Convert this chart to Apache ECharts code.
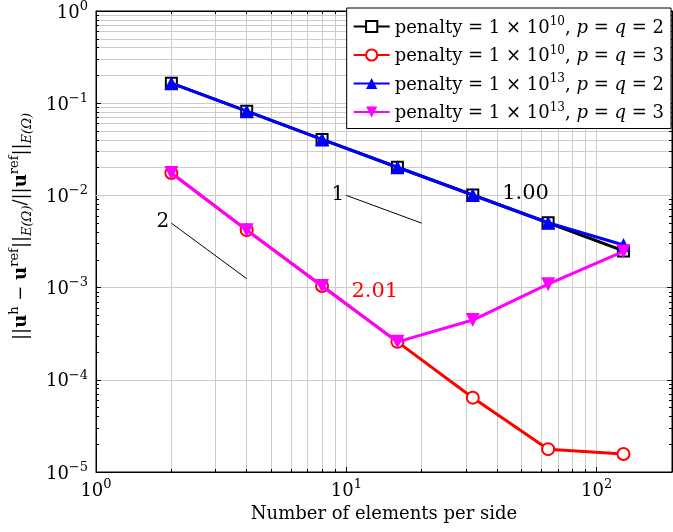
<!DOCTYPE html>
<html><head><meta charset="utf-8">
<script src="https://cdn.jsdelivr.net/npm/echarts@6/dist/echarts.min.js"></script>
<style>html,body{margin:0;padding:0;background:#fff}#c{width:673px;height:532px}</style>
</head><body><div id="c"></div>
<script>
// ---- data ----
const nElems = [2, 4, 8, 16, 32, 64, 128];
const err_1e10_p2 = [0.165, 0.082, 0.0405, 0.0202, 0.0101, 0.00505, 0.0025];
const err_1e10_p3 = [0.0175, 0.0042, 0.00104, 0.000258, 0.000064, 0.0000177, 0.0000157];
const err_1e13_p2 = [0.165, 0.082, 0.0405, 0.0202, 0.0101, 0.00505, 0.0029];
const err_1e13_p3 = [0.0175, 0.0042, 0.00104, 0.000258, 0.000445, 0.00109, 0.00247];
const seriesNames = ['pen10p2', 'pen10p3', 'pen13p2', 'pen13p3'];
const legendExp = ['10', '10', '13', '13'];
const legendOrder = ['2', '3', '2', '3'];
const slope1X = [10, 20], slope1Y = [0.01, 0.005];
const slope2X = [2, 4], slope2Y = [0.005, 0.00125];
const annoX = [9.25, 1.85, 52, 13];
const annoY = [0.0102, 0.0052, 0.0104, 0.0009];
const annoText = ['1', '2', '1.00', '2.01'];
const xMinor = [2,3,4,5,6,7,8,9,20,30,40,50,60,70,80,90];
const yMajorExp = [-5, -4, -3, -2, -1, 0];
const yMinorMant = [2,3,4,5,6,7,8,9];

const FONT = 'DejaVu Serif';
const zip = (a, b) => a.map((v, i) => [v, b[i]]);
const yMinor = [];
yMajorExp.slice(0, -1).forEach(e => yMinorMant.forEach(m => yMinor.push(m * Math.pow(10, e))));

const chart = echarts.init(document.getElementById('c'));
const grid = {left: 92, right: 1, top: 8, bottom: 60};
const XMIN = 1, XMAX = 200, YMIN = 1e-5, YMAX = 1;
const plotW = 673 - grid.left - grid.right, plotH = 532 - grid.top - grid.bottom;
const tickLen = 5;
const minorLen = 3;
const xTickFacM = Math.pow(XMAX / XMIN, minorLen / plotW);
const yTickFacM = Math.pow(YMAX / YMIN, minorLen / plotH);

const gridColor = '#cccccc';
const markLines = [];
xMinor.forEach(v => markLines.push({xAxis: v, lineStyle: {color: gridColor, width: 1, type: 'solid'}}));
yMinor.forEach(v => markLines.push({yAxis: v, lineStyle: {color: gridColor, width: 1, type: 'solid'}}));
const tk = {color: '#000', width: 1, type: 'solid'};
xMinor.forEach(v => {
  markLines.push([{coord: [v, YMIN], lineStyle: tk}, {coord: [v, YMIN * yTickFacM]}]);
  markLines.push([{coord: [v, YMAX], lineStyle: tk}, {coord: [v, YMAX / yTickFacM]}]);
});
yMinor.forEach(v => {
  markLines.push([{coord: [XMIN, v], lineStyle: tk}, {coord: [XMIN * xTickFacM, v]}]);
  markLines.push([{coord: [XMAX, v], lineStyle: tk}, {coord: [XMAX / xTickFacM, v]}]);
});

function powLabel(v) {
  const e = Math.round(Math.log10(v));
  if (Math.abs(Math.log10(v) - e) > 1e-6) return '';
  return '{b|10}{s|' + String(e).replace('-', '\u2212') + '}';
}
const labRich = {
  b: {fontFamily: FONT, fontSize: 18, color: '#000', lineHeight: 22, verticalAlign: 'bottom'},
  s: {fontFamily: FONT, fontSize: 13, color: '#000', lineHeight: 22, verticalAlign: 'top', padding: [0, 0, 8, 0]}
};
const baseAxis = {
  type: 'log', logBase: 10,
  axisLine: {show: true, lineStyle: {color: '#000', width: 1}},
  axisTick: {show: true, inside: true, length: tickLen, lineStyle: {color: '#000'}},
  splitLine: {show: true, lineStyle: {color: gridColor, width: 1}},
  minorTick: {show: false}, minorSplitLine: {show: false}
};

const lw = 3;
const series = [
  {name: seriesNames[0], type: 'line', data: zip(nElems, err_1e10_p2), symbol: 'emptyRect', symbolSize: 11,
   lineStyle: {color: '#000', width: lw}, itemStyle: {color: '#000', borderColor: '#000', borderWidth: 2.5}, z: 3,
   markLine: {silent: true, symbol: 'none', label: {show: false}, animation: false, data: markLines, z: 1}},
  {name: seriesNames[1], type: 'line', data: zip(nElems, err_1e10_p3), symbol: 'emptyCircle', symbolSize: 12,
   lineStyle: {color: '#ff0000', width: lw}, itemStyle: {color: '#ff0000', borderColor: '#ff0000', borderWidth: 2.5}, z: 4},
  {name: seriesNames[2], type: 'line', data: zip(nElems, err_1e13_p2), symbol: 'triangle', symbolSize: 14,
   lineStyle: {color: '#0000ff', width: lw}, itemStyle: {color: '#0000ff'}, z: 5},
  {name: seriesNames[3], type: 'line', data: zip(nElems, err_1e13_p3), symbol: 'triangle', symbolRotate: 180, symbolSize: 14,
   lineStyle: {color: '#ff00ff', width: lw}, itemStyle: {color: '#ff00ff'}, z: 6},
  {name: 'slope1', type: 'line', data: zip(slope1X, slope1Y), symbol: 'none', lineStyle: {color: '#000', width: 1}, z: 3, silent: true},
  {name: 'slope2', type: 'line', data: zip(slope2X, slope2Y), symbol: 'none', lineStyle: {color: '#000', width: 1}, z: 3, silent: true},
  {name: 'anno', type: 'scatter', symbolSize: 0, z: 7, silent: true, itemStyle: {opacity: 1},
   data: annoText.map((t, i) => ({value: [annoX[i], annoY[i]], itemStyle: {opacity: 1},
     label: {show: true, position: 'inside', formatter: t, fontFamily: FONT, opacity: 1,
       fontSize: i < 2 ? 20 : 21, color: i === 3 ? '#ff0000' : '#000'}}))}
];

chart.setOption({
  animation: false,
  backgroundColor: '#fff',
  grid: Object.assign({show: true, borderColor: '#000', borderWidth: 1, backgroundColor: 'transparent'}, grid),
  xAxis: [
    Object.assign({}, baseAxis, {min: XMIN, max: XMAX, position: 'bottom',
      name: 'Number of elements per side', nameLocation: 'middle', nameGap: 32,
      nameTextStyle: {fontFamily: FONT, fontSize: 18, color: '#000'},
      axisLabel: {formatter: powLabel, rich: labRich, margin: 6, showMaxLabel: false}}),
    Object.assign({}, baseAxis, {min: XMIN, max: XMAX, position: 'top', axisLabel: {show: false}, splitLine: {show: false}})
  ],
  yAxis: [
    Object.assign({}, baseAxis, {min: YMIN, max: YMAX, position: 'left',
      name: '{n|||}{b|u}{s|h}{n| \u2212 }{b|u}{s|ref}{n|||}{d|E(\u03A9)}{n|/||}{b|u}{s|ref}{n|||}{d|E(\u03A9)}',
      nameLocation: 'middle', nameGap: 62, nameRotate: 90,
      nameTextStyle: {padding: [0, 0, 0, 30], rich: {
        n: {fontFamily: FONT, fontSize: 18, color: '#000', lineHeight: 26, verticalAlign: 'middle'},
        b: {fontFamily: FONT, fontSize: 18, fontWeight: 'bold', color: '#000', lineHeight: 26, verticalAlign: 'middle'},
        s: {fontFamily: FONT, fontSize: 13, color: '#000', lineHeight: 26, verticalAlign: 'top', padding: [0,0,10,0]},
        d: {fontFamily: FONT, fontSize: 13, fontStyle: 'italic', color: '#000', lineHeight: 26, verticalAlign: 'bottom', padding: [6,0,0,0]}
      }},
      axisLabel: {formatter: powLabel, rich: labRich, margin: 8}}),
    Object.assign({}, baseAxis, {min: YMIN, max: YMAX, position: 'right', axisLabel: {show: false}, splitLine: {show: false}})
  ],
  legend: {
    data: seriesNames, orient: 'vertical', right: 2, top: 8,
    backgroundColor: '#fff', borderColor: '#000', borderWidth: 1, borderRadius: 0,
    padding: [8, 7, 6, 6], itemGap: 7.5, itemWidth: 36, itemHeight: 14,
    formatter: name => {
      const i = seriesNames.indexOf(name);
      return '{n|penalty = 1 \u00D7 10}{s|' + legendExp[i] + '}{n|, }{i|p}{n| = }{i|q}{n| = ' + legendOrder[i] + '}';
    },
    textStyle: {rich: {
      n: {fontFamily: FONT, fontSize: 18, color: '#000', lineHeight: 21, verticalAlign: 'bottom'},
      i: {fontFamily: FONT, fontSize: 18, fontStyle: 'italic', color: '#000', lineHeight: 21, verticalAlign: 'bottom'},
      s: {fontFamily: FONT, fontSize: 12, color: '#000', lineHeight: 21, verticalAlign: 'top', padding: [0,0,8,0]}
    }}
  },
  series: series
});
</script></body></html>
